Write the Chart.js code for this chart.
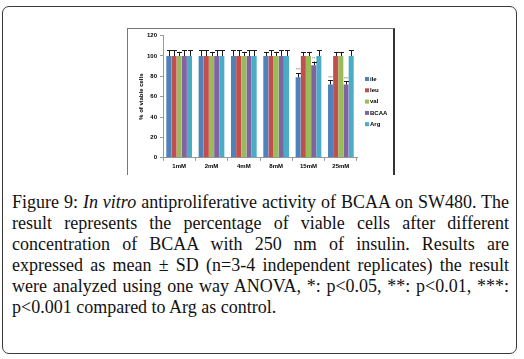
<!DOCTYPE html>
<html><head><meta charset="utf-8">
<script src="https://cdn.jsdelivr.net/npm/chart.js@4"></script>
<style>
html,body{margin:0;padding:0;background:#fff;width:524px;height:359px;overflow:hidden;}
#outer{position:absolute;left:2px;top:6px;width:513px;height:346px;border:1.5px solid #3a3a3a;border-radius:7px;}
#box{position:absolute;left:127px;top:28px;width:265px;height:146px;border-left:1px solid #777;border-top:1px solid #777;border-right:2px solid #333;}
#wrap{position:absolute;left:128px;top:29px;width:265px;height:145px;}
#cap{position:absolute;left:12px;top:192px;width:497px;font-family:"Liberation Serif","DejaVu Serif",serif;font-size:18px;line-height:21px;color:#111;}
#cap .l{display:block;white-space:nowrap;text-align:justify;text-align-last:justify;}
#cap .last{display:block;white-space:nowrap;text-align:left;}
</style></head>
<body>
<div id="outer"></div>
<div id="box"></div>
<div id="wrap"><canvas id="c" width="265" height="145"></canvas></div>
<div id="cap"><span class="l">Figure 9: <i>In vitro</i> antiproliferative activity of BCAA on SW480. The</span><span class="l">result represents the percentage of viable cells after different</span><span class="l">concentration of BCAA with 250 nm of insulin. Results are</span><span class="l">expressed as mean ± SD (n=3-4 independent replicates) the result</span><span class="l">were analyzed using one way ANOVA, *: p&lt;0.05, **: p&lt;0.01, ***:</span><span class="last">p&lt;0.001 compared to Arg as control.</span></div>
<script>
const categories = ['1mM','2mM','4mM','8mM','15mM','25mM'];
const seriesNames = ['ile','leu','val','BCAA','Arg'];
const ile  = [100,100,100,100,79,72];
const leu  = [100,100,100,100,100,100];
const val  = [100,100,100,100,100,100];
const bcaa = [100,100,100,100,91,72];
const arg  = [100,100,100,100,100,100];
const ileErr  = [5.5,5.5,5.5,4,4,4];
const leuErr  = [5.5,5.5,5.5,5.5,4,4];
const valErr  = [4,4,4,4,4,4];
const bcaaErr = [5.5,5.5,5.5,5.5,3.5,3];
const argErr  = [5.5,5.5,5.5,5.5,5.5,5.5];
const ileSig  = ['','','','','***','***'];
const bcaaSig = ['','','','','**','***'];
const yTicks = [0,20,40,60,80,100,120];

const colors = ['#4F81BD','#C0504D','#9BBB59','#8064A2','#4BACC6'];
const allData = [ile,leu,val,bcaa,arg];
const allErr = [ileErr,leuErr,valErr,bcaaErr,argErr];
const allSig = [ileSig,[],[],bcaaSig,[]];

const errPlugin = {
  id:'err',
  afterDatasetsDraw(chart){
    const ctx = chart.ctx, y = chart.scales.y;
    ctx.save();
    chart.data.datasets.forEach((ds,di)=>{
      const meta = chart.getDatasetMeta(di);
      meta.data.forEach((bar,i)=>{
        const v = ds.data[i], e = allErr[di][i];
        const yt = y.getPixelForValue(v+e), yb = y.getPixelForValue(v);
        ctx.strokeStyle='#1a1a1a'; ctx.lineWidth=1;
        ctx.beginPath();
        ctx.moveTo(Math.round(bar.x)+0.5,yb); ctx.lineTo(Math.round(bar.x)+0.5,yt);
        ctx.moveTo(Math.round(bar.x)-2,Math.round(yt)+0.5); ctx.lineTo(Math.round(bar.x)+3,Math.round(yt)+0.5);
        ctx.stroke();
        const s = allSig[di][i];
        if(s){
          ctx.fillStyle='#9a9a9a'; ctx.font='bold 4px "Liberation Sans"';
          ctx.textAlign='center'; ctx.textBaseline='bottom';
          ctx.fillText(s,bar.x,yt-1);
        }
      });
    });
    ctx.font='bold 6px "Liberation Sans"'; ctx.textAlign='left'; ctx.textBaseline='middle';
    chart.data.datasets.forEach((ds,di)=>{
      const ly = 50 + di*11.3;
      ctx.fillStyle = ds.backgroundColor;
      ctx.fillRect(237,ly-2,4,4);
      ctx.fillStyle='#000';
      ctx.fillText(ds.label,242,ly);
    });
    ctx.restore();
  }
};

new Chart(document.getElementById('c'),{
  type:'bar',
  data:{labels:categories,datasets:seriesNames.map((n,i)=>({label:n,data:allData[i],backgroundColor:colors[i],borderWidth:0}))},
  options:{
    responsive:false,animation:false,
    datasets:{bar:{barPercentage:0.97,categoryPercentage:0.8}},
    layout:{padding:{left:0,right:36,top:3,bottom:2}},
    plugins:{legend:{display:false},tooltip:{enabled:false}},
    scales:{
      x:{
        grid:{display:true,drawOnChartArea:false,offset:true,tickLength:3,color:'#999'},
        border:{color:'#999'},
        ticks:{font:{family:'Liberation Sans',size:6,weight:'bold'},color:'#000',padding:2,maxRotation:0}
      },
      y:{
        min:0,max:120,
        afterBuildTicks(s){s.ticks=yTicks.map(v=>({value:v}));},
        afterFit(s){s.width=35;},
        grid:{display:true,drawOnChartArea:false,tickLength:3,color:'#999'},
        border:{color:'#999'},
        ticks:{font:{family:'Liberation Sans',size:6,weight:'bold'},color:'#000',padding:3},
        title:{display:true,text:'% of viable cells',font:{family:'Liberation Sans',size:6,weight:'bold'},color:'#000',padding:{top:10,bottom:0}}
      }
    }
  },
  plugins:[errPlugin]
});
</script>
</body></html>
